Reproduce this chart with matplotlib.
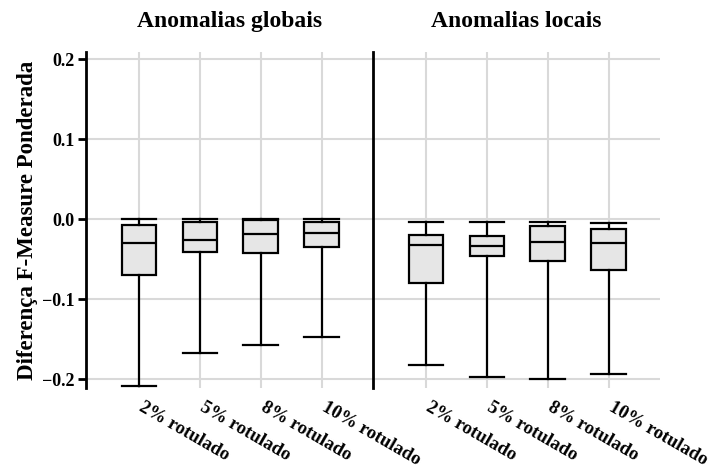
import matplotlib
matplotlib.use("Agg")
import matplotlib.pyplot as plt
import matplotlib.transforms as mtransforms

plt.rcParams['font.family'] = ['Liberation Serif', 'DejaVu Serif']
plt.rcParams['font.weight'] = 'bold'

panels = ['Anomalias globais', 'Anomalias locais']
labels = ['2% rotulado', '5% rotulado', '8% rotulado', '10% rotulado']

# box statistics
glob_whislo = [-0.209, -0.1675, -0.1575, -0.1475]
glob_q1 = [-0.070, -0.041, -0.042, -0.035]
glob_med = [-0.030, -0.026, -0.018, -0.0167]
glob_q3 = [-0.0075, -0.004, -0.0005, -0.004]
glob_whishi = [0.0, 0.0, 0.0, 0.0]

loc_whislo = [-0.1825, -0.1967, -0.1996, -0.1933]
loc_q1 = [-0.080, -0.046, -0.0525, -0.063]
loc_med = [-0.0325, -0.034, -0.029, -0.0296]
loc_q3 = [-0.0196, -0.021, -0.009, -0.0129]
loc_whishi = [-0.0037, -0.0037, -0.0037, -0.0046]


def make_stats(lo, q1, med, q3, hi):
    return [dict(whislo=a, q1=b, med=c, q3=d, whishi=e, fliers=[])
            for a, b, c, d, e in zip(lo, q1, med, q3, hi)]


data = [make_stats(glob_whislo, glob_q1, glob_med, glob_q3, glob_whishi),
        make_stats(loc_whislo, loc_q1, loc_med, loc_q3, loc_whishi)]

fig = plt.figure(figsize=(7.12, 4.70), dpi=100)
ax1 = fig.add_axes([0.1208, 0.1745, 0.403, 0.715])
ax2 = fig.add_axes([0.5239, 0.1745, 0.403, 0.715], sharey=ax1)

# nudge the rotated x labels a little to the right
shift = mtransforms.ScaledTranslation(4 / 72, 0, fig.dpi_scale_trans)
line = dict(color='black', linewidth=1.6)
for ax, title, stats in zip([ax1, ax2], panels, data):
    ax.bxp(stats, positions=range(4), widths=0.57, patch_artist=True,
           boxprops=dict(facecolor='#e6e6e6', edgecolor='black', linewidth=1.6),
           medianprops=line, whiskerprops=line, capprops=line,
           capwidths=0.57, showfliers=False)
    ax.set_xlim(-0.87, 3.84)
    ax.set_ylim(-0.211, 0.209)
    ax.set_yticks([-0.2, -0.1, 0.0, 0.1, 0.2])
    ax.grid(True, color='#d9d9d9', linewidth=1.5)
    ax.set_axisbelow(True)
    for s in ['top', 'right', 'bottom']:
        ax.spines[s].set_visible(False)
    ax.spines['left'].set_linewidth(2)
    ax.set_xticks(range(4))
    ax.tick_params(axis='x', length=0, pad=8)
    ax.set_xticklabels(labels, rotation=-30, ha='left', rotation_mode='anchor',
                       fontsize=13.5, fontweight='bold')
    for t in ax.get_xticklabels():
        t.set_transform(t.get_transform() + shift)
    ax.set_title(title, fontsize=17, fontweight='bold', pad=18)

ax1.tick_params(axis='y', labelsize=13, length=6, width=2, pad=2)
ax2.tick_params(axis='y', left=False, labelleft=False)
ax1.set_ylabel('Diferença F-Measure Ponderada', fontsize=16.5, fontweight='bold', labelpad=3)

fig.savefig('out.png', dpi=100)
